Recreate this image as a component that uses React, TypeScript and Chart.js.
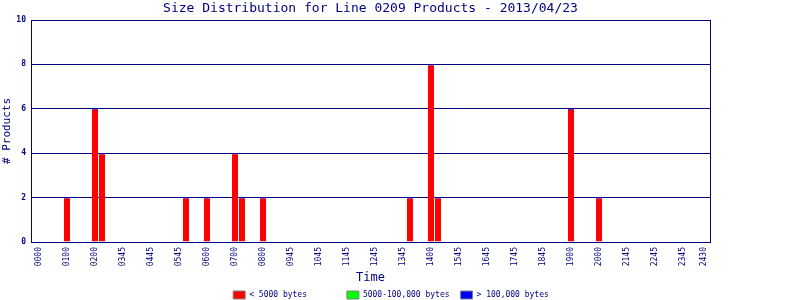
import React, { useEffect, useRef } from 'react';
import { Chart, registerables } from 'chart.js';

Chart.register(...registerables);

const TITLE = 'Size Distribution for Line 0209 Products - 2013/04/23';
const X_TITLE = 'Time';
const Y_TITLE = '# Products';

// x tick positions (15-minute slot index) and their labels
const tickSlots = [0, 4, 8, 12, 16, 20, 24, 28, 32, 36, 40, 44, 48, 52, 56, 60, 64, 68, 72, 76, 80, 84, 88, 92, 95];
const tickLabels = ['0000', '0100', '0200', '0345', '0445', '0545', '0600', '0700', '0800', '0945', '1045', '1145', '1245', '1345', '1400', '1545', '1645', '1745', '1845', '1900', '2000', '2145', '2245', '2345', '2430'];

// bars: slot index and product counts per size class
const barSlots = [4, 8, 9, 21, 24, 28, 29, 32, 53, 56, 57, 76, 80];
const smallCounts = [2, 6, 4, 2, 2, 4, 2, 2, 2, 8, 2, 6, 2];
const mediumCounts = [0, 0, 0, 0, 0, 0, 0, 0, 0, 0, 0, 0, 0];
const largeCounts = [0, 0, 0, 0, 0, 0, 0, 0, 0, 0, 0, 0, 0];

const seriesNames = ['< 5000 bytes', '5000-100,000 bytes', '> 100,000 bytes'];
const seriesColors = ['#ff0000', '#00ff00', '#0000ff'];
const yTicks = [0, 2, 4, 6, 8, 10];

const NAVY = '#000080';
const MONO = 'DejaVu Sans Mono';

const X_MIN = 4 - 36 / 7;
const X_MAX = X_MIN + 97;

export default function App() {
  const ref = useRef<HTMLCanvasElement>(null);

  useEffect(() => {
    const canvas = ref.current;
    if (!canvas) return;
    const toPoints = (vals: number[]) => barSlots.map((s, i) => ({ x: s, y: vals[i] }));
    const chart = new Chart(canvas, {
      type: 'bar',
      data: {
        datasets: [
          {
            label: seriesNames[0],
            data: toPoints(smallCounts),
            backgroundColor: seriesColors[0],
            borderColor: '#0000ff',
            borderWidth: { top: 1, left: 0, right: 0, bottom: 0 },
            barThickness: 6,
            inflateAmount: 0,
          },
          {
            label: seriesNames[1],
            data: toPoints(mediumCounts),
            backgroundColor: seriesColors[1],
            borderWidth: 0,
            barThickness: 6,
            inflateAmount: 0,
          },
          {
            label: seriesNames[2],
            data: toPoints(largeCounts),
            backgroundColor: seriesColors[2],
            borderWidth: 0,
            barThickness: 6,
            inflateAmount: 0,
          },
        ],
      } as any,
      options: {
        responsive: false,
        animation: false,
        events: [],
        layout: { padding: { left: 0, right: 18, top: 0, bottom: 0 } },
        plugins: {
          tooltip: { enabled: false },
          title: {
            display: true,
            text: TITLE,
            color: NAVY,
            fullSize: false,
            font: { family: MONO, size: 13, weight: 'normal', lineHeight: '16px' },
            padding: { top: 1, bottom: 3 },
          },
          legend: {
            position: 'bottom',
            maxHeight: 20,
            labels: {
              boxWidth: 12,
              boxHeight: 8,
              padding: 11,
              color: NAVY,
              font: { family: MONO, size: 8 },
              generateLabels: (c: any) =>
                Chart.defaults.plugins.legend.labels.generateLabels(c).map((it: any, i: number) => ({
                  ...it,
                  text: i === 0 ? it.text + '      ' : it.text,
                  fillStyle: seriesColors[i],
                  strokeStyle: '#808080',
                  lineWidth: 1,
                })),
            },
          },
        },
        scales: {
          x: {
            type: 'linear',
            min: X_MIN,
            max: X_MAX,
            offset: false,
            stacked: true,
            grid: { display: false, drawTicks: false, offset: false },
            border: { display: true, color: NAVY, width: 1 },
            ticks: {
              autoSkip: false,
              minRotation: 90,
              maxRotation: 90,
              padding: 5,
              color: NAVY,
              font: { family: MONO, size: 8 },
              callback: (v: any) => {
                const idx = tickSlots.indexOf(Number(v));
                return idx >= 0 ? tickLabels[idx] : '';
              },
            },
            afterBuildTicks: (s: any) => {
              s.ticks = tickSlots.map((v) => ({ value: v }));
            },
            afterFit: (s: any) => {
              s.height = 38;
            },
            title: {
              display: true,
              text: X_TITLE,
              color: NAVY,
              font: { family: MONO, size: 12, lineHeight: '5px' },
              padding: 0,
            },
          },
          y: {
            type: 'linear',
            min: 0,
            max: 10,
            stacked: true,
            grid: { color: NAVY, lineWidth: 1, drawTicks: false },
            border: { display: true, color: NAVY, width: 1 },
            ticks: {
              padding: 5,
              color: NAVY,
              font: { family: MONO, size: 8, weight: 'bold' },
            },
            afterBuildTicks: (s: any) => {
              s.ticks = yTicks.map((v) => ({ value: v }));
            },
            afterFit: (s: any) => {
              s.width = 31;
            },
            title: {
              display: true,
              text: Y_TITLE,
              color: NAVY,
              font: { family: MONO, size: 11 },
              padding: { top: 1, bottom: 0 },
            },
          },
          y1: {
            type: 'linear',
            position: 'right',
            display: true,
            grid: { display: false, drawTicks: false },
            border: { display: true, color: NAVY, width: 1 },
            ticks: { display: false },
            afterFit: (s: any) => {
              s.width = 72;
            },
          },
        },
      } as any,
    });
    return () => chart.destroy();
  }, []);

  return (
    <div style={{ position: 'absolute', left: 0, top: 0, width: 800, height: 300, background: '#ffffff' }}>
      <canvas ref={ref} width={800} height={300} />
    </div>
  );
}
